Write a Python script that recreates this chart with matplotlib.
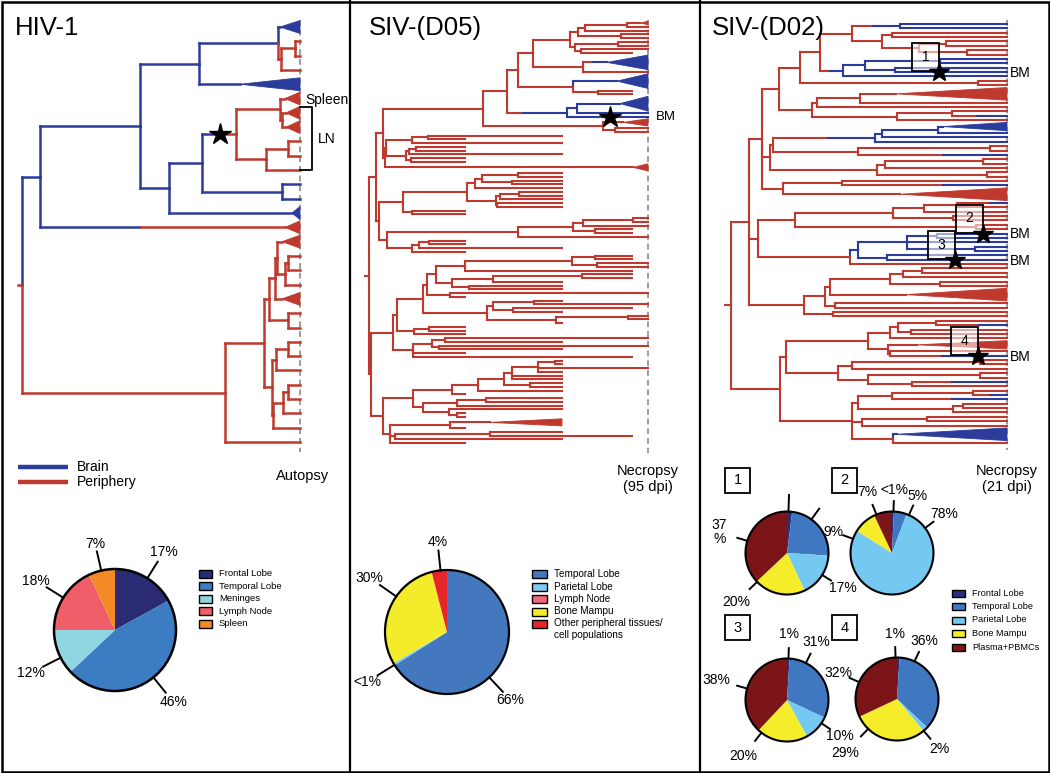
import re
import numpy as np
import matplotlib
matplotlib.use('Agg')
import matplotlib.pyplot as plt
from matplotlib.collections import LineCollection
from matplotlib.patches import Polygon, Rectangle, Circle

plt.rcParams['font.family'] = ['Liberation Sans', 'DejaVu Sans']

W, H = 1050, 773
RED, BLUE = '#c0392f', '#2b3c9c'
COL = {'r': RED, 'b': BLUE}

# Trees in a newick-like form.  ":d" = distance from the root, "-e" = end of a
# collapsed clade, "^n" = collapsed clade spanning n rows, "@s" = colour change
# along the branch (r = periphery, b = brain), "*s" = star on the branch.

# ---- HIV-1 ----
HIV_D = "(b^1:258-278,((r:278,r:278)r:273,r:278)r:259)b:256"
HIV_C = f"({HIV_D},b^1:218-278)b:177"
HIV_J = "(r^1:263-278,(r^1:264-278,r^1:264-278)r:260)r:258"
HIV_K = "((r:278,r:278)r:266,r:278)r:244"
HIV_I = f"({HIV_J},{HIV_K})br@196*198:214"
HIV_H = f"({HIV_I},(b:278,b:278)b:260)b:180"
HIV_G = f"({HIV_H},b^1:270-278)b:147"
HIV_A = f"(({HIV_C},{HIV_G})b:118,br@118^1:263-278)b:18"
HIV_P = "(((r^1:260-278,((r:278,r:278)r:266,r:278)r:263)r:255,r^1:260-278)r:253,(r:278,r:278)r:266)r:247"
HIV_R = "(((r:278,r:278)r:266,r:278)r:254,(((r:278,r:278)r:266,r:278)r:261,r:278)r:251)r:250"
HIV_N = f"(({HIV_P},{HIV_R})r:242,r:278)r:203"
HIV_TREE = f"({HIV_A},{HIV_N})r:0"

# ---- SIV-(D05) ----
D05_T1 = ("((((r^1:271-279,r:279)r:258,r:279)r:216,(r:279,r:279)r:252)r:209,"
          "((r:279,r:279)r:249,(r:279,r:263)r:212)r:206)r:201")
D05_T2 = "(rb@224^4:238-279,r:279)r:214"
D05_T3 = "(b^4:248-279,(r:263,r:263)r:229)r:204"
D05_BM = "((b^4:251-279,b:279)b:208,b*241:279)rb@154:198"
D05_T4 = "(r^2:254-279,(r:279,r:279)r:246)r:234"
D05_S4 = f"(((({D05_T1},{D05_T2})r:164,{D05_T3})r:149,{D05_BM})r:138,{D05_T4})r:114"
D05_C1 = "(((r:193,r:96)r:59,r:193)r:43,(((r:96,r:96)r:47,r:193)r:40,(r:96,r:96)r:42)r:37)r:17"
D05_C2 = ("(((((r:193,r:193)r:149,(r:193,r:193)r:143)r:113,r:193)r:106,"
          "(((r:193,r:193)r:150,r:193)r:131,(r:193,r:193)r:128)r:127)r:98,(r:96,r:96)r:43)r:34")
D05_C3 = ("(((((r:279,r:279)r:264,r:279)r:214,(r:263,r:263)r:226)r:204,r:279)r:149,"
          "(((r:96,r:96)r:60,r:193)r:50,r:96)r:43)r:18")
D05_U = f"(({D05_S4},({D05_C1},r^2:264-279)r:16)r:14,({D05_C2},{D05_C3})r:10)r:7"
D05_E1 = ("((((((r:263,r:263)r:226,(r:279,r:279)r:228)r:203,r:263)r:96,"
          "(((r:263,r:263)r:213,r:193)r:124,(r:193,r:193)r:100)r:83)r:67,(r:279,r:96)r:81)r:58,"
          "(((r:193,r:279)r:165,(r:263,r:193)r:144)r:124,((r:279,r:279)r:259,r:193)r:187)r:118)r:54")
D05_E = f"(({D05_E1},((r:96,r:96)r:60,r:96)r:45)r:28,(((r:279,r:193)r:76,(r:279,r:193)r:70)r:63,r:96,r:263)r:44)r:24"
D05_F1 = ("((((((r:193,r:193)r:186,r:279,r:193)r:169,r:193,r:193)r:143,(r:193,r:193)r:161)r:135,"
          "r:193)r:109,r:96)r:83")
D05_F2 = "(((r:193,r:193)r:117,r:193)r:88,(r:193,(r:96,r:96)r:88)r:80)r:54"
D05_F3 = "((r^2:121-193,r:96)r:81,((r:193,r:263)r:121,r:193)r:26,r:96)r:21"
D05_TREE = f"({D05_U},({D05_E},(({D05_F1},{D05_F2})r:44,{D05_F3})r:14)r:2)r:0"

# ---- SIV-(D02) ----
D02_N455 = ("((b:276,b:276)rb@142:169,((r:276,r:276)r:161,((r:276,r:276)r:215,"
            "(r:276,r:276)r:236)r:188)r:151)r:121")
D02_NB1 = "(((b:276,b:276)b:209,(b:276,b*208:276)b:164)b:134,b:276)rb@99:112"
D02_Q1 = (f"((({D02_N455},{D02_NB1})r:89,(r:276,r:276)r:247)r:69,"
          "(((r^3:165-276,r:276)r:129,r:276)r:86,((r:276,rb@246:276)r:221,r:276)r:166)r:81)r:48")
D02_Q2 = "((((b^2:212-276,b:276)b:207,b:276)b:151,b:276)rb@97:144,((r:276,r:276)r:259,rb@212:276)r:127)r:42"
D02_Q3 = "(((r:276,r:276)r:252,r:276)r:154,(r:276,r:276)r:256)r:146"
D02_Q36 = "((r:276,rb@212:276)r:111,r^3:169-276)r:52"
D02_N290 = "((((rb@259:276,r:276)r:226,r:276)r:193,(r:276,r:276)r:222)r:162,(r:276,r:276)r:245)r:64"
D02_BMC = "((((b*252:276,b:276)b:206,b:276,(b:276,b:276)b:244)b:176,(b:276,b*224:276)b:156)b:127,r:276)r:119"
D02_Q5 = ("((((((r:276,r:276)r:191,r:276)r:172,(r:276,r:276)r:209)r:159,r^3:175-276)r:99,"
          "(r:276,r:276)r:104)r:94,(r:276,r:276)r:102)r:73")
D02_Q6 = ("(((((r:276,rb@248:276)r:205,(r:276,r:276)r:180)r:167,r:276)r:159,"
          "(r^2:186-276,(r:276,rb@211*247:276)r:159)r:157)r:137,"
          "(((r:276,r:276)r:249,r:276)r:121,((r:276,r:276)r:249,(rb@221:276,r:276)r:181)r:137)r:107)r:55")
D02_Q7 = ("((((r:276,rb@259:276)r:242,rb@221:276)r:161,((r:276,r:276)r:232,r:276)r:222)r:127,"
          "((r:276,r:276)r:196,r:276)r:131,(b^3:166-276,r:276)r:162)r:121")
D02_TREE = (f"((({D02_Q1},({D02_Q2},{D02_Q3})r:39,{D02_Q36})r:31,({D02_N290},{D02_BMC})r:27,{D02_Q5})r:18,"
            f"({D02_Q6},{D02_Q7})r:49)r:0")

# ---- pies ----
HIV_PIE_NAMES = ['Frontal Lobe', 'Temporal Lobe', 'Meninges', 'Lymph Node', 'Spleen']
HIV_PIE_COLORS = ['#2a2b73', '#3b7cc2', '#8fd6e2', '#ef5e69', '#f28b25']
HIV_PIE_VALUES = [17, 46, 12, 18, 7]
HIV_PIE_TEXT = ['17%', '46%', '12%', '18%', '7%']

D05_PIE_NAMES = ['Temporal Lobe', 'Parietal Lobe', 'Lymph Node', 'Bone Mampu',
                 'Other peripheral tissues/\ncell populations']
D05_PIE_COLORS = ['#4378be', '#7dcaf0', '#f0677a', '#f4ec2b', '#e6262b']
D05_PIE_VALUES = [66, 0.6, 0, 29.4, 4]
D05_PIE_TEXT = ['66%', '<1%', '', '30%', '4%']

D02_PIE_NAMES = ['Frontal Lobe', 'Temporal Lobe', 'Parietal Lobe', 'Bone Mampu', 'Plasma+PBMCs']
D02_PIE_COLORS = ['#2c2c7c', '#3f78c0', '#75c9f0', '#f5ec2a', '#7b1517']
D02_PIE_VALUES = [[2, 24, 17, 20, 37], [0.7, 5, 78, 9, 7], [1, 31, 10, 20, 38], [1, 36, 2, 29, 32]]
D02_PIE_TEXT = [['', '', '17%', '20%', '37\n%'], ['<1%', '5%', '78%', '9%', '7%'],
                ['1%', '31%', '10%', '20%', '38%'], ['1%', '36%', '2%', '29%', '32%']]

# label placement: (angle clockwise from 12 o'clock, radius factor)
HIV_LBL_POS = [(32, 1.5), (141, 1.52), (243, 1.55), (302, 1.53), (347, 1.45)]
D05_LBL_POS = [(137, 1.5), (238, 1.52), None, (305, 1.53), (354, 1.46)]
D02_LBL_POS = [[(2, 1.4), (36, 1.32), (122, 1.6), (226, 1.7), (287, 1.7)],
               [(2, 1.52), (24, 1.5), (53, 1.58), (290, 1.5), (338, 1.58)],
               [(2, 1.58), (27, 1.58), (124, 1.55), (218, 1.7), (286, 1.76)],
               [(358, 1.56), (25, 1.55), (140, 1.58), (224, 1.8), (294, 1.55)]]

LABEL = re.compile(r'([rb]+)(?:@([\d.]+))?(?:\^(\d+))?(?:\*([\d.]+))?:([\d.]+)(?:-([\d.]+))?')


def parse(text):
    toks = re.findall(r'[(),]|[^(),]+', text)
    pos = 0

    def node():
        nonlocal pos
        kids = []
        if toks[pos] == '(':
            pos += 1
            kids.append(node())
            while toks[pos] == ',':
                pos += 1
                kids.append(node())
            pos += 1
        cols, sw, rows, star, d, end = LABEL.fullmatch(toks[pos]).groups()
        pos += 1
        return {'c0': cols[0], 'c1': cols[-1], 'sw': float(sw) if sw else None,
                'tri': rows is not None, 'rows': int(rows) if rows else 1,
                'star': float(star) if star else None, 'd': float(d),
                'end': float(end) if end else float(d), 'kids': kids}
    return node()


def layout(n, row=0):
    if n['kids']:
        for k in n['kids']:
            row = layout(k, row)
        n['y'] = (n['kids'][0]['y'] + n['kids'][-1]['y']) / 2
    else:
        n['y'] = row + (n['rows'] - 1) / 2
        row += n['rows']
    return row


def tip_depth(n):
    if not n['kids']:
        return n['end']
    return max(tip_depth(k) for k in n['kids'])


fig = plt.figure(figsize=(W / 100, H / 100), dpi=100)
ov = fig.add_axes([0, 0, 1, 1])
ov.set_xlim(0, W)
ov.set_ylim(H, 0)
ov.axis('off')
ov.set_zorder(10)


def to_px(ax, pt):
    x, y = ax.transData.transform(pt)
    return x, H - y


def draw_tree(text, root_px, tip_px, top_py, bot_py, lw, stub, dash):
    root = parse(text)
    nrows = layout(root)
    tip = tip_depth(root)
    ax = fig.add_axes([root_px / W, 1 - bot_py / H, (tip_px - root_px) / W, (bot_py - top_py) / H])
    segs, cols, stars = [], [], []

    def branch(n, d0):
        y = n['y']
        if n['sw'] is not None:
            segs.append([(d0, y), (n['sw'], y)]); cols.append(COL[n['c0']])
            segs.append([(n['sw'], y), (n['d'], y)]); cols.append(COL[n['c1']])
        else:
            segs.append([(d0, y), (n['d'], y)]); cols.append(COL[n['c1']])
        if n['star'] is not None:
            stars.append((n['star'], y))
        if n['tri']:
            h = n['rows'] / 2 - 0.05
            ax.add_patch(Polygon([(n['d'], y), (n['end'], y - h), (n['end'], y + h)],
                                 closed=True, fc=COL[n['c1']], ec=COL[n['c1']], lw=0.6,
                                 zorder=3, clip_on=False))
        for k in n['kids']:
            segs.append([(n['d'], y), (n['d'], k['y'])]); cols.append(COL[k['c0']])
            branch(k, n['d'])

    branch(root, root['d'] - stub)
    lc = LineCollection(segs, colors=cols, linewidths=lw, capstyle='projecting', zorder=3)
    lc.set_clip_on(False)
    ax.add_collection(lc)
    sp = (bot_py - top_py) / (nrows - 1)
    ax.plot([tip, tip], [(dash[0] - top_py) / sp, (dash[1] - top_py) / sp], color='#9c9c9c',
            lw=1.4, ls=(0, (3, 2)), zorder=1, clip_on=False)
    ax.set_xlim(0, tip)
    ax.set_ylim(nrows - 1, 0)
    ax.axis('off')
    return [to_px(ax, s) for s in stars]


def draw_pie(cx, cy, r, vals, colors, texts, pos, lw, lead=1.32, fs=10):
    k = 2.0
    ax = fig.add_axes([(cx - k * r) / W, 1 - (cy + k * r) / H, 2 * k * r / W, 2 * k * r / H])
    ax.pie(vals, colors=colors, startangle=90, counterclock=False, radius=1,
           wedgeprops=dict(linewidth=0))
    ax.add_patch(Circle((0, 0), 1, fill=False, ec='black', lw=lw, zorder=5))
    for txt, p in zip(texts, pos):
        if p is None:
            continue
        ang, f = p
        t = np.radians(ang)
        sx, sy = np.sin(t), np.cos(t)
        end = lead if txt else f
        ax.plot([sx, end * sx], [sy, end * sy], color='black', lw=1.4, clip_on=False, zorder=4)
        if txt:
            ax.text(f * sx, f * sy, txt, ha='center', va='center', fontsize=fs, linespacing=1.0)
    ax.set_xlim(-k, k)
    ax.set_ylim(-k, k)
    ax.set_aspect('equal')
    ax.axis('off')


def legend(x, y0, dy, names, colors, fs, w=13, h=8):
    for i, (nm, c) in enumerate(zip(names, colors)):
        y = y0 + i * dy
        ov.add_patch(Rectangle((x, y - h / 2), w, h, fc=c, ec='black', lw=1.0))
        if '\n' in nm:
            ov.text(x + w + 7, y - 6.5, nm, fontsize=fs, va='top', ha='left', linespacing=1.3)
        else:
            ov.text(x + w + 7, y, nm, fontsize=fs, va='center', ha='left')


# frame and panel dividers
ov.add_patch(Rectangle((1.5, 1.5), W - 3, H - 3, fill=False, ec='black', lw=1.8))
for xd in (349.5, 699.5):
    ov.plot([xd, xd], [0, H], color='black', lw=1.6)

# titles
ov.text(15, 35, 'HIV-1', fontsize=18.5, va='baseline')
ov.text(369, 35, 'SIV-(D05)', fontsize=18.5, va='baseline')
ov.text(712, 35, 'SIV-(D02)', fontsize=18.5, va='baseline')

# ---- HIV panel ----
hiv_stars = draw_tree(HIV_TREE, 22, 300, 27, 442, 1.8, 4, (20, 452))
for sx, sy in hiv_stars:
    ov.plot(sx, sy, marker='*', ms=16, color='black', zorder=12)
ov.text(305, 100, 'Spleen', fontsize=10, va='center')
ov.plot([300, 312, 312, 300], [107, 107, 170, 170], color='black', lw=1.3)
ov.text(318, 139, 'LN', fontsize=10, va='center')
ov.plot([18, 68], [467, 467], color=BLUE, lw=3.2, solid_capstyle='butt')
ov.plot([18, 68], [482, 482], color=RED, lw=3.2, solid_capstyle='butt')
ov.text(77, 467, 'Brain', fontsize=10, va='center')
ov.text(77, 482, 'Periphery', fontsize=10, va='center')
ov.text(303, 476, 'Autopsy', fontsize=10.5, va='center', ha='center')
draw_pie(115, 630, 61, HIV_PIE_VALUES, HIV_PIE_COLORS, HIV_PIE_TEXT, HIV_LBL_POS, 1.8)
legend(199, 574, 12.4, HIV_PIE_NAMES, HIV_PIE_COLORS, 6.8)

# ---- SIV D05 panel ----
d05_stars = draw_tree(D05_TREE, 369, 648, 23, 443, 1.5, 4, (20, 453))
for sx, sy in d05_stars:
    ov.plot(sx, sy, marker='*', ms=16, color='black', zorder=12)
    ov.text(656, sy, 'BM', fontsize=9.5, va='center')
ov.text(648, 464, 'Necropsy\n(95 dpi)', fontsize=10.5, va='top', ha='center', linespacing=1.2)
draw_pie(447, 632, 62, D05_PIE_VALUES, D05_PIE_COLORS, D05_PIE_TEXT, D05_LBL_POS, 1.6)
legend(532, 574, 12.5, D05_PIE_NAMES, D05_PIE_COLORS, 7.2, w=15)

# ---- SIV D02 panel ----
d02_stars = draw_tree(D02_TREE, 731, 1007, 24, 443, 1.5, 6, (20, 450))
for i, (sx, sy) in enumerate(d02_stars):
    ov.add_patch(Rectangle((sx - 27, sy - 29), 27, 28, fc='white', alpha=0.55, ec='none', zorder=11))
    ov.add_patch(Rectangle((sx - 27, sy - 29), 27, 28, fill=False, ec='black', lw=1.3, zorder=11))
    ov.text(sx - 13.5, sy - 15, str(i + 1), fontsize=10, ha='center', va='center', zorder=12)
    ov.plot(sx, sy, marker='*', ms=15, color='black', zorder=12)
    ov.text(1010, sy + 1, 'BM', fontsize=10, va='center')
ov.text(1007, 464, 'Necropsy\n(21 dpi)', fontsize=10.5, va='top', ha='center', linespacing=1.2)

pie_centres = [(787, 553), (892, 553), (787, 700), (897, 699)]
box_corners = [(725, 468), (832, 468), (725, 615), (832, 615)]
for i in range(4):
    cx, cy = pie_centres[i]
    draw_pie(cx, cy, 41.5, D02_PIE_VALUES[i], D02_PIE_COLORS, D02_PIE_TEXT[i], D02_LBL_POS[i],
             1.5, lead=1.25)
    bx, by = box_corners[i]
    ov.add_patch(Rectangle((bx, by), 25, 25, fill=False, ec='black', lw=1.3))
    ov.text(bx + 12.5, by + 12.5, str(i + 1), fontsize=10.5, ha='center', va='center')
legend(952, 593, 13.5, D02_PIE_NAMES, D02_PIE_COLORS, 6.6, w=13, h=7)

fig.savefig('out.png', dpi=100)
